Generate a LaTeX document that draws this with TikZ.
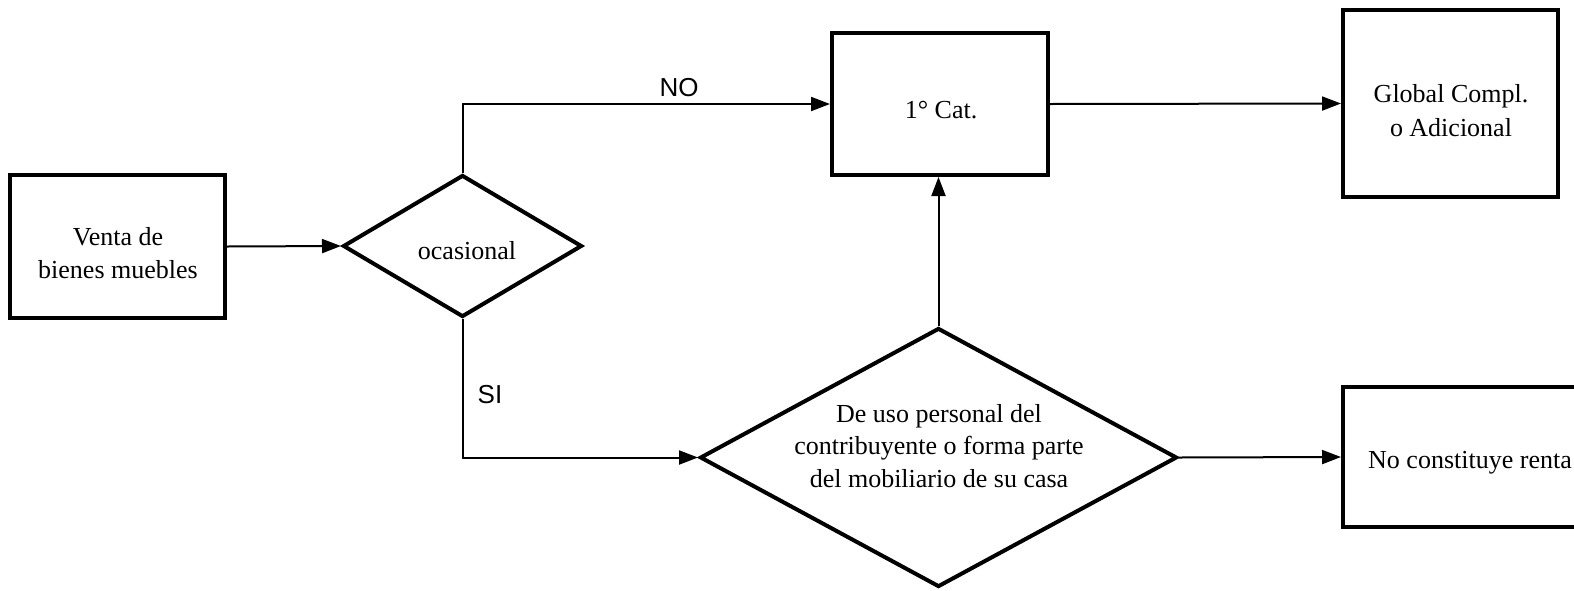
\documentclass[tikz,border=0pt]{standalone}
\usepackage{fontspec}
\setmainfont{Liberation Serif}
\newfontfamily\arialf{Liberation Sans}
\usetikzlibrary{shapes.geometric,arrows.meta}
\tikzset{
  box/.style={draw, line width=4pt, rectangle, inner sep=0pt},
  dec/.style={draw, line width=4pt, diamond, inner sep=0pt},
  txt/.style={align=center, inner sep=0pt, font=\fontsize{26}{32.5}\selectfont},
  conn/.style={line width=2pt, -{Triangle[length=19pt,width=14pt]}},
  lab/.style={inner sep=0pt, font=\arialf\fontsize{26}{30}\selectfont}
}
\begin{document}
\begin{tikzpicture}[x=1pt,y=-1pt]
\useasboundingbox (0,0) rectangle (1574,590);
\clip (0,0) rectangle (1574,590);
\node[box, minimum width=215pt, minimum height=143pt] (venta) at (117.5,246.5) {};
\node[txt] (ventat) at (118,253) {Venta de\\bienes muebles};
\node[dec, minimum width=239pt, minimum height=142pt] (ocas) at (462.5,246) {};
\node[txt] (ocast) at (467,251) {ocasional};
\node[box, minimum width=216pt, minimum height=142pt] (cat) at (940,104) {};
\node[txt] (catt) at (941,110) {1° Cat.};
\node[box, minimum width=215pt, minimum height=187pt] (glob) at (1450.5,103.5) {};
\node[txt, font=\fontsize{26}{34}\selectfont] (globt) at (1451,111) {Global Compl.\\o Adicional};
\node[dec, minimum width=477pt, minimum height=259pt] (big) at (938.5,457.5) {};
\node[txt] (bigt) at (939,446) {De uso personal del\\contribuyente o forma parte\\del mobiliario de su casa};
\node[box, minimum width=250pt, minimum height=140pt] (nocon) at (1468,457) {};
\node[txt, anchor=west] (nocont) at (1368,463) {No constituye renta};
\draw[conn] (venta.east) -- (ocas.west);
\draw[conn] (ocas.north) |- (cat.west);
\draw[conn] (ocas.south) |- (big.west);
\draw[conn] (big.north) -- (big.north |- cat.south);
\draw[conn] (cat.east) -- (glob.west);
\draw[conn] (big.east) -- (nocon.west);
\node[lab] (no) at (679,88) {NO};
\node[lab] (si) at (490,395) {SI};
\end{tikzpicture}
\end{document}
